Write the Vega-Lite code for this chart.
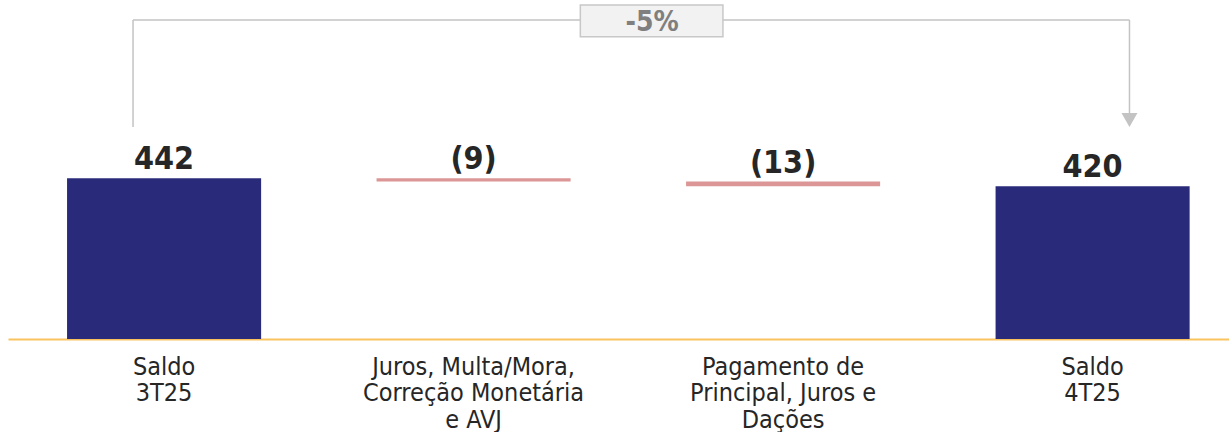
{
  "$schema": "https://vega.github.io/schema/vega-lite/v6.json",
  "width": 1221,
  "height": 339,
  "padding": {"left": 8, "top": 0, "right": 0, "bottom": 0},
  "config": {
    "view": {"stroke": null},
    "font": "DejaVu Sans Condensed, DejaVu Sans",
    "axisX": {
      "labelExpr": "split(datum.value, '|')",
      "domainColor": "#F9C45E",
      "domainWidth": 2,
      "ticks": false,
      "grid": false,
      "labelFontSize": 25,
      "labelColor": "#262626",
      "labelPadding": 15,
      "labelLineHeight": 26.5,
      "labelAngle": 0,
      "labelBaseline": "top",
      "labelLimit": 500
    }
  },
  "datasets": {
    "steps": [
      {"cat": "Saldo|3T25", "start": 0, "end": 442, "label": "442", "type": "total"},
      {"cat": "Juros, Multa/Mora,|Correção Monetária|e AVJ", "start": 442, "end": 433, "label": "(9)", "type": "neg"},
      {"cat": "Pagamento de|Principal, Juros e|Dações", "start": 433, "end": 420, "label": "(13)", "type": "neg"},
      {"cat": "Saldo|4T25", "start": 0, "end": 420, "label": "420", "type": "total"}
    ]
  },
  "layer": [
    {
      "data": {"name": "steps"},
      "mark": {"type": "bar"},
      "encoding": {
        "x": {"field": "cat", "type": "nominal", "title": null,
          "scale": {"domain": ["Saldo|3T25", "Juros, Multa/Mora,|Correção Monetária|e AVJ", "Pagamento de|Principal, Juros e|Dações", "Saldo|4T25"], "paddingInner": 0.373, "paddingOuter": 0.159, "align": 0.6}},
        "y": {"field": "start", "type": "quantitative", "axis": null, "scale": {"domain": [0, 932], "nice": false}},
        "y2": {"field": "end"},
        "color": {"field": "type", "type": "nominal", "legend": null,
          "scale": {"domain": ["total", "neg"], "range": ["#2A2A7B", "#DC9696"]}}
      }
    },
    {
      "data": {"name": "steps"},
      "transform": [{"calculate": "max(datum.start, datum.end)", "as": "top"}],
      "mark": {"type": "text", "dy": -9, "baseline": "alphabetic", "fontSize": 32, "fontWeight": "bold", "color": "#262626"},
      "encoding": {
        "x": {"field": "cat", "type": "nominal", "title": null},
        "y": {"field": "top", "type": "quantitative", "axis": null},
        "text": {"field": "label"}
      }
    },
    {
      "data": {"values": [{"cat": "Saldo|3T25", "y": 583, "y2": 877}]},
      "mark": {"type": "rule", "color": "#C3C3C3", "strokeWidth": 1.5},
      "encoding": {
        "x": {"field": "cat", "type": "nominal", "title": null, "bandPosition": 0.34},
        "y": {"field": "y", "type": "quantitative", "axis": null},
        "y2": {"field": "y2"}
      }
    },
    {
      "data": {"values": [{"cat": "Saldo|3T25", "cat2": "Saldo|4T25", "y": 877}]},
      "mark": {"type": "rule", "color": "#C3C3C3", "strokeWidth": 1.5},
      "encoding": {
        "x": {"field": "cat", "type": "nominal", "title": null, "bandPosition": 0.34},
        "x2": {"field": "cat2", "bandPosition": 0.69},
        "y": {"field": "y", "type": "quantitative", "axis": null}
      }
    },
    {
      "data": {"values": [{"cat": "Saldo|4T25", "y": 877, "y2": 620}]},
      "mark": {"type": "rule", "color": "#C3C3C3", "strokeWidth": 1.5},
      "encoding": {
        "x": {"field": "cat", "type": "nominal", "title": null, "bandPosition": 0.69},
        "y": {"field": "y", "type": "quantitative", "axis": null},
        "y2": {"field": "y2"}
      }
    },
    {
      "data": {"values": [{"cat": "Saldo|4T25", "y": 602}]},
      "mark": {"type": "point", "shape": "triangle-down", "size": 256, "filled": true, "color": "#C3C3C3", "opacity": 1},
      "encoding": {
        "x": {"field": "cat", "type": "nominal", "title": null, "bandPosition": 0.69},
        "y": {"field": "y", "type": "quantitative", "axis": null}
      }
    },
    {
      "data": {"values": [{"cat": "Juros, Multa/Mora,|Correção Monetária|e AVJ", "cat2": "Pagamento de|Principal, Juros e|Dações", "y": 918, "y2": 831}]},
      "mark": {"type": "rect", "fill": "#F2F2F2", "stroke": "#C8C8C8", "strokeWidth": 1.5},
      "encoding": {
        "x": {"field": "cat", "type": "nominal", "title": null, "bandPosition": 1.05},
        "x2": {"field": "cat2", "bandPosition": 0.19},
        "y": {"field": "y", "type": "quantitative", "axis": null},
        "y2": {"field": "y2"}
      }
    },
    {
      "data": {"values": [{"cat": "Juros, Multa/Mora,|Correção Monetária|e AVJ", "y": 868, "label": "-5%"}]},
      "mark": {"type": "text", "baseline": "middle", "fontSize": 28, "fontWeight": "bold", "color": "#7F7F7F"},
      "encoding": {
        "x": {"field": "cat", "type": "nominal", "title": null, "bandPosition": 1.42},
        "y": {"field": "y", "type": "quantitative", "axis": null},
        "text": {"field": "label"}
      }
    }
  ]
}
